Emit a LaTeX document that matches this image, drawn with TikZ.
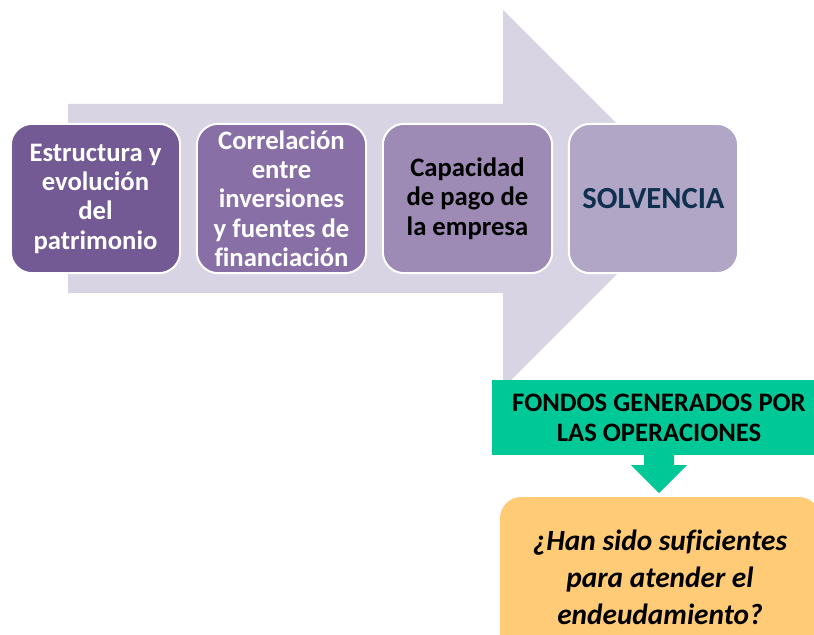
\documentclass[tikz,border=0pt]{standalone}
\usepackage{fontspec}
\setmainfont{Carlito}[Ligatures=CommonOff]
\usetikzlibrary{positioning,calc}
\definecolor{flecha}{HTML}{D8D4E3}
\definecolor{morado1}{HTML}{735A94}
\definecolor{morado2}{HTML}{8870A6}
\definecolor{morado3}{HTML}{9D8BB5}
\definecolor{morado4}{HTML}{B1A6C6}
\definecolor{azulosc}{HTML}{10304F}
\definecolor{verde}{HTML}{00C896}
\definecolor{naranja}{HTML}{FFCB77}
\tikzset{
	etapa/.style 2 args={rectangle,rounded corners=16pt,draw=white,line width=1.5pt,fill=#1,text=#2,minimum width=127pt,minimum height=112pt,align=center,inner sep=0pt,font=\fontsize{20}{22}\selectfont\bfseries},
	fondo/.style={rectangle,fill=verde,minimum width=250pt,minimum height=56pt,align=center,font=\fontsize{20}{22.5}\selectfont\bfseries},
	pregunta/.style={rectangle,rounded corners=16pt,fill=naranja,minimum width=240pt,minimum height=120pt,align=center,font=\fontsize{22}{27.75}\selectfont\bfseries\itshape}
}
\begin{document}
\begin{tikzpicture}[x=0.75pt,y=-0.75pt]
	\useasboundingbox (0,0) rectangle (814,635);
	\fill[flecha] (68,104) -- (503,104) -- (503,10) -- (692,199) -- (503,388) -- (503,293) -- (68,293) -- cycle;

	\node [etapa={morado1}{white}] (estructura) at (95.5,198.5) {Estructura y\\evolución\\del\\patrimonio};
	\node [etapa={morado2}{white},right=11pt of estructura] (correlacion) {Correlación\\entre\\inversiones\\y fuentes de\\financiación};
	\node [etapa={morado3}{black},right=11pt of correlacion] (capacidad) {Capacidad\\de pago de\\la empresa};
	\node [etapa={morado4}{azulosc},right=11pt of capacidad,font=\fontsize{23}{26}\selectfont\bfseries] (solvencia) {SOLVENCIA};

	\node [fondo] (fondos) at (659,417.5) {FONDOS GENERADOS POR\\LAS OPERACIONES};
	\node [pregunta] (suficientes) at (660,577) {¿Han sido suficientes\\para atender el\\endeudamiento?};

	\fill[verde] ($(fondos.south)+(-15,0)$) -- ++(0,10) -- ++(-13,0) -- ($(fondos.south)+(0,38)$) -- ++(28,-28) -- ++(-13,0) -- ++(0,-10) -- cycle;
\end{tikzpicture}
\end{document}
